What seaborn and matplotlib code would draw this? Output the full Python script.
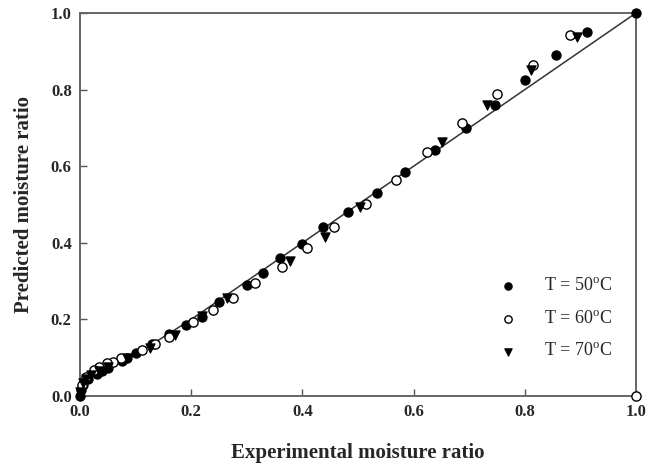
import matplotlib
matplotlib.use("Agg")
import matplotlib.pyplot as plt
import seaborn as sns
import pandas as pd

# data
x50 = [1.0, 0.912, 0.856, 0.80, 0.746, 0.694, 0.638, 0.585, 0.534, 0.482, 0.437, 0.399,
       0.36, 0.329, 0.30, 0.25, 0.219, 0.19, 0.16, 0.13, 0.10, 0.085, 0.075, 0.05, 0.04,
       0.03, 0.015, 0.006, 0.002, 0.0]
y50 = [1.0, 0.95, 0.89, 0.826, 0.76, 0.70, 0.642, 0.585, 0.53, 0.48, 0.44, 0.397,
       0.36, 0.321, 0.29, 0.245, 0.206, 0.185, 0.163, 0.135, 0.112, 0.1, 0.092, 0.072, 0.065,
       0.058, 0.045, 0.03, 0.015, 0.0]

x60 = [1.0, 0.881, 0.815, 0.75, 0.687, 0.624, 0.568, 0.514, 0.457, 0.408, 0.363, 0.315,
       0.275, 0.239, 0.203, 0.16, 0.135, 0.111, 0.074, 0.06, 0.048, 0.035, 0.025, 0.01, 0.003]
y60 = [0.0, 0.943, 0.865, 0.789, 0.713, 0.637, 0.564, 0.501, 0.441, 0.386, 0.337, 0.295,
       0.256, 0.225, 0.193, 0.155, 0.135, 0.12, 0.099, 0.09, 0.086, 0.075, 0.068, 0.05, 0.03]

x70 = [0.894, 0.812, 0.732, 0.651, 0.504, 0.44, 0.378, 0.264, 0.22, 0.17, 0.125, 0.085,
       0.05, 0.035, 0.02, 0.01, 0.005, 0.0]
y70 = [0.937, 0.851, 0.76, 0.663, 0.494, 0.415, 0.352, 0.256, 0.21, 0.16, 0.125, 0.1,
       0.075, 0.065, 0.055, 0.045, 0.035, 0.01]

# fitted line
line_x = [0.0, 0.005, 0.02, 0.05, 0.1, 0.2, 0.3, 0.4, 0.5, 0.6, 0.7, 0.8, 0.9, 1.0]
line_y = [0.0, 0.03, 0.05, 0.072, 0.108, 0.2, 0.3, 0.4, 0.5, 0.6, 0.7, 0.8, 0.9, 1.0]

labels = ["T = 50$^\\mathregular{o}$C", "T = 60$^\\mathregular{o}$C", "T = 70$^\\mathregular{o}$C"]

sns.set_style("ticks")
plt.rcParams["font.family"] = ["Liberation Serif", "DejaVu Serif"]
plt.rcParams["mathtext.fontset"] = "custom"
plt.rcParams["mathtext.rm"] = "Liberation Serif"

fig = plt.figure(figsize=(6.58, 4.70), dpi=100)
ax = fig.add_axes([0.1216, 0.1574, 0.845, 0.815])

sns.lineplot(x=line_x, y=line_y, ax=ax, color="#333333", linewidth=1.1, zorder=2)

d50 = pd.DataFrame({"x": x50, "y": y50})
d60 = pd.DataFrame({"x": x60, "y": y60})
d70 = pd.DataFrame({"x": x70, "y": y70})

sns.scatterplot(data=d50, x="x", y="y", ax=ax, marker="o", s=44, color="black",
                edgecolor="black", linewidth=0.8, label=labels[0], zorder=3, clip_on=False)
sns.scatterplot(data=d60, x="x", y="y", ax=ax, marker="o", s=44, facecolor="white",
                edgecolor="black", linewidth=1.0, label=labels[1], zorder=3, clip_on=False)
sns.scatterplot(data=d70, x="x", y="y", ax=ax, marker="v", s=44, color="black",
                edgecolor="black", linewidth=0.8, label=labels[2], zorder=3, clip_on=False)

ax.set_xlim(0, 1)
ax.set_ylim(0, 1)
ax.set_xticks([0.0, 0.2, 0.4, 0.6, 0.8, 1.0])
ax.set_yticks([0.0, 0.2, 0.4, 0.6, 0.8, 1.0])
ax.set_xticklabels(["0.0", "0.2", "0.4", "0.6", "0.8", "1.0"], fontweight="bold", fontsize=12)
ax.set_yticklabels(["0.0", "0.2", "0.4", "0.6", "0.8", "1.0"], fontweight="bold", fontsize=12)
ax.tick_params(direction="in", length=5, width=1.0, color="#555555", pad=6)

for sp in ax.spines.values():
    sp.set_color("#666666")
    sp.set_linewidth(1.4)

ax.set_xlabel("Experimental moisture ratio", fontsize=15, fontweight="bold", labelpad=16)
ax.set_ylabel("Predicted moisture ratio", fontsize=15, fontweight="bold", labelpad=12)

ax.legend(loc="lower right", bbox_to_anchor=(0.98, 0.06), frameon=False, fontsize=13,
          labelspacing=0.85, handletextpad=1.0, borderpad=0.2, markerscale=0.8)

fig.savefig("out.png", dpi=100)
